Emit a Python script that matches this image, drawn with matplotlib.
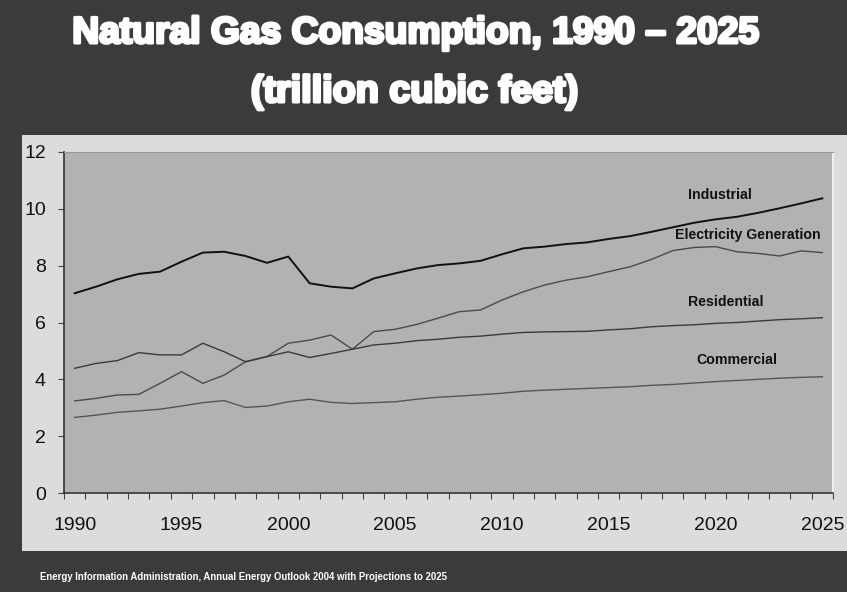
import matplotlib
matplotlib.use('Agg')
import matplotlib.pyplot as plt
import matplotlib.patheffects as pe
from matplotlib.patches import Rectangle

years = list(range(1990, 2026))

industrial = [7.03, 7.26, 7.52, 7.71, 7.79, 8.14, 8.46, 8.49, 8.34, 8.10,
              8.32, 7.38, 7.26, 7.20, 7.55, 7.73, 7.90, 8.02, 8.08, 8.17,
              8.40, 8.61, 8.67, 8.76, 8.82, 8.94, 9.04, 9.19, 9.35, 9.51,
              9.63, 9.72, 9.86, 10.02, 10.19, 10.37]
electricity = [3.24, 3.33, 3.45, 3.47, 3.86, 4.27, 3.86, 4.15, 4.62, 4.80,
               5.27, 5.38, 5.56, 5.06, 5.68, 5.76, 5.93, 6.15, 6.38, 6.44,
               6.79, 7.08, 7.32, 7.49, 7.61, 7.79, 7.96, 8.22, 8.53, 8.64,
               8.67, 8.49, 8.43, 8.34, 8.52, 8.46]
residential = [4.39, 4.56, 4.66, 4.94, 4.86, 4.86, 5.27, 4.97, 4.62, 4.80,
               4.97, 4.77, 4.91, 5.06, 5.21, 5.27, 5.36, 5.41, 5.48, 5.52,
               5.59, 5.65, 5.67, 5.68, 5.69, 5.74, 5.78, 5.85, 5.89, 5.92,
               5.97, 6.00, 6.05, 6.10, 6.13, 6.17]
commercial = [2.66, 2.74, 2.84, 2.89, 2.95, 3.06, 3.18, 3.25, 3.01, 3.06,
              3.21, 3.30, 3.19, 3.15, 3.18, 3.21, 3.30, 3.37, 3.41, 3.46,
              3.51, 3.58, 3.62, 3.65, 3.68, 3.71, 3.74, 3.79, 3.82, 3.87,
              3.92, 3.96, 4.00, 4.04, 4.07, 4.09]

# name, values, colour, width, label position (year, value)
series = [
    ('Industrial', industrial, '#111111', 1.4, 2020.2, 10.49),
    ('Electricity Generation', electricity, '#4a4a4a', 1.0, 2021.5, 9.08),
    ('Residential', residential, '#3a3a3a', 1.0, 2020.5, 6.72),
    ('Commercial', commercial, '#555555', 1.0, 2021.0, 4.68),
]

DARK = '#3b3b3b'

fig = plt.figure(figsize=(8.47, 5.92), dpi=100)
fig.patch.set_facecolor(DARK)

# light panel behind the chart
fig.patches.append(Rectangle((22 / 847, 41 / 592), 1 - 22 / 847, 416 / 592,
                             transform=fig.transFigure, facecolor='#dcdcdc',
                             edgecolor='none', zorder=-5))

ax = fig.add_axes([64 / 847, 99 / 592, 769 / 847, 341 / 592])
ax.set_zorder(2)
ax.set_facecolor('#b2b2b2')

for name, vals, color, lw, tx, ty in series:
    ax.plot(years, vals, color=color, lw=lw)
    ax.text(tx, ty, name, ha='center', va='center', fontsize=10.2,
            fontweight='bold', family='Liberation Sans', color='#111111')

ax.set_xlim(1989.5, 2025.5)
ax.set_ylim(0, 12)
ax.set_yticks(range(0, 13, 2))
ax.set_xticks([y + 0.5 for y in range(1989, 2026)], minor=False)
ax.set_xticklabels([])
ax.set_xticks(range(1990, 2026, 5), minor=True)
ax.set_xticklabels([str(y) for y in range(1990, 2026, 5)], minor=True)
ax.tick_params(axis='x', which='major', length=4, color='#444444',
               direction='out')
ax.tick_params(axis='x', which='minor', length=0, pad=17, labelsize=14)
ax.tick_params(axis='y', length=4, color='#444444', labelsize=14, pad=9)
for lab in ax.get_xticklabels(minor=True) + ax.get_yticklabels():
    lab.set_family('Liberation Sans')
    lab.set_color('#111111')

for side in ['left', 'bottom']:
    ax.spines[side].set_color('#333333')
    ax.spines[side].set_linewidth(1.2)
ax.spines['top'].set_color('#999999')
ax.spines['right'].set_color('#f0f0f0')
ax.spines['right'].set_linewidth(1.5)

heavy = [pe.withStroke(linewidth=2.2, foreground='white')]
fig.text(0.491, 1 - 43 / 592, 'Natural Gas Consumption, 1990 \u2013 2025',
         ha='center', va='baseline', color='white', fontsize=26.8,
         fontweight='bold', family='Liberation Sans', path_effects=heavy)
fig.text(0.489, 1 - 102 / 592, '(trillion cubic feet)',
         ha='center', va='baseline', color='white', fontsize=27.2,
         fontweight='bold', family='Liberation Sans', path_effects=heavy)
fig.text(40 / 847, 1 - 577 / 592,
         'Energy Information Administration, Annual Energy Outlook 2004 '
         'with Projections to 2025',
         ha='left', va='center', color='white', fontsize=6.9,
         fontweight='bold', family='Liberation Sans')

fig.savefig('out.png', dpi=100, facecolor=fig.get_facecolor())
